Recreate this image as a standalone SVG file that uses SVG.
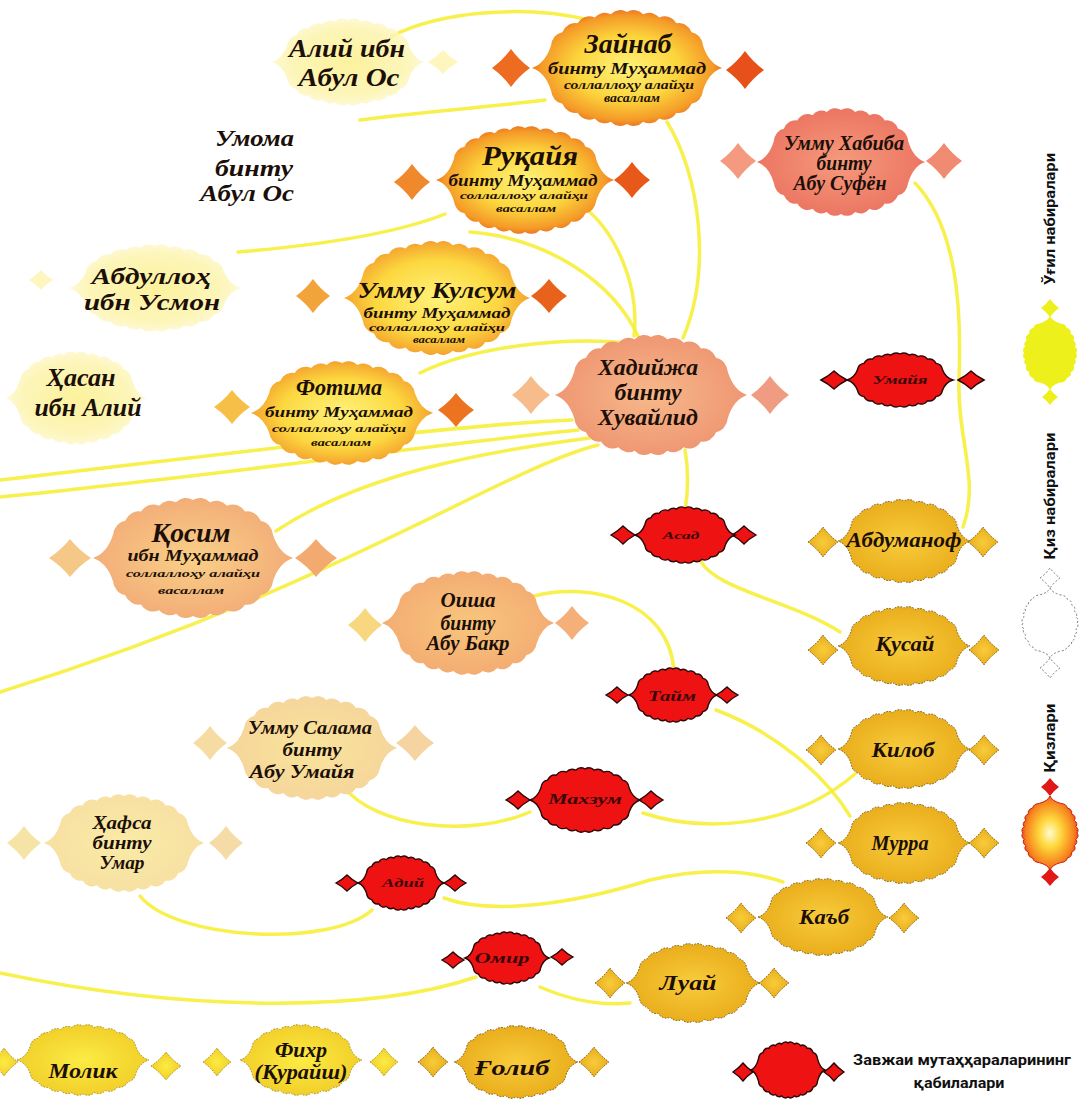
<svg xmlns="http://www.w3.org/2000/svg" xmlns:xlink="http://www.w3.org/1999/xlink" width="1079" height="1103" viewBox="0 0 1079 1103">
<style>
.n{font-family:"Liberation Serif","DejaVu Serif",serif;font-weight:bold;font-style:italic;fill:#1c0f08;text-anchor:middle}
.nr{font-family:"Liberation Serif","DejaVu Serif",serif;font-weight:bold;font-style:italic;fill:#1c0f08;text-anchor:end}
.t{font-family:"Liberation Serif","DejaVu Serif",serif;font-weight:bold;font-style:italic;fill:#3a0808;text-anchor:middle}
.lg{font-family:"Roboto","Liberation Sans",sans-serif;font-weight:bold;fill:#111;text-anchor:middle}
.c{fill:none;stroke:#f6ee3a;stroke-width:3.5;stroke-linecap:round;opacity:.9}
.gold{fill:url(#gGold);stroke:#6e5a22;stroke-width:1;stroke-dasharray:1.5 1.5}
.yel{fill:url(#gYel);stroke:#8a7a2a;stroke-width:.8;stroke-dasharray:1.5 1.5}
.red{fill:#ee1212;stroke:#2a0505;stroke-width:1.4}
.pale{fill:url(#gPale);opacity:.8}
.dpale{fill:#fbf08a;opacity:.55}
</style>
<defs>
<path id="med" vector-effect="non-scaling-stroke" d="M -100 0 Q -86 -4 -80 -20 A 14 14 0 0 1 -68 -32 A 15 15 0 0 1 -52 -40 A 15 15 0 0 1 -34 -45 A 15 15 0 0 1 -17 -48 A 15 15 0 0 1 0 -50 A 15 15 0 0 1 17 -48 A 15 15 0 0 1 34 -45 A 15 15 0 0 1 52 -40 A 15 15 0 0 1 68 -32 A 14 14 0 0 1 80 -20 Q 86 -4 100 0 Q 86 4 80 20 A 14 14 0 0 1 68 32 A 15 15 0 0 1 52 40 A 15 15 0 0 1 34 45 A 15 15 0 0 1 17 48 A 15 15 0 0 1 0 50 A 15 15 0 0 1 -17 48 A 15 15 0 0 1 -34 45 A 15 15 0 0 1 -52 40 A 15 15 0 0 1 -68 32 A 14 14 0 0 1 -80 20 Q -86 4 -100 0 Z"/>
<path id="dia" vector-effect="non-scaling-stroke" d="M -1 0 Q -0.42 -0.42 0 -1 Q 0.42 -0.42 1 0 Q 0.42 0.42 0 1 Q -0.42 0.42 -1 0 Z"/>
<radialGradient id="gDau" cx="50%" cy="50%" r="55%"><stop offset="0" stop-color="#fff27a"/><stop offset=".5" stop-color="#fcd53c"/><stop offset=".82" stop-color="#f49a28"/><stop offset="1" stop-color="#e6561a"/></radialGradient>
<radialGradient id="gDau2" cx="50%" cy="50%" r="55%"><stop offset="0" stop-color="#fff27a"/><stop offset=".6" stop-color="#fcd840"/><stop offset=".88" stop-color="#f5a830"/><stop offset="1" stop-color="#ee7a22"/></radialGradient>
<radialGradient id="gKhad" cx="50%" cy="50%" r="55%"><stop offset="0" stop-color="#f7b88a"/><stop offset="1" stop-color="#ee9470"/></radialGradient>
<radialGradient id="gHab" cx="50%" cy="50%" r="55%"><stop offset="0" stop-color="#f59a7c"/><stop offset="1" stop-color="#eb7260"/></radialGradient>
<radialGradient id="gQos" cx="50%" cy="50%" r="55%"><stop offset="0" stop-color="#f9d088"/><stop offset="1" stop-color="#f2aa76"/></radialGradient>
<radialGradient id="gOis" cx="50%" cy="50%" r="55%"><stop offset="0" stop-color="#f8c67c"/><stop offset="1" stop-color="#f3aa72"/></radialGradient>
<radialGradient id="gSal" cx="50%" cy="50%" r="55%"><stop offset="0" stop-color="#f9e49a"/><stop offset="1" stop-color="#f5d49c"/></radialGradient>
<radialGradient id="gHaf" cx="50%" cy="50%" r="55%"><stop offset="0" stop-color="#faeba6"/><stop offset="1" stop-color="#f6dfa2"/></radialGradient>
<radialGradient id="gGold" cx="50%" cy="50%" r="55%"><stop offset="0" stop-color="#f8cc3c"/><stop offset="1" stop-color="#e8aa18"/></radialGradient>
<radialGradient id="gYel" cx="50%" cy="50%" r="55%"><stop offset="0" stop-color="#fbec44"/><stop offset="1" stop-color="#f1cc26"/></radialGradient>
<radialGradient id="gPale" cx="50%" cy="50%" r="55%"><stop offset="0" stop-color="#fbee84"/><stop offset=".7" stop-color="#fcf3a8"/><stop offset="1" stop-color="#fef9d8"/></radialGradient>
<radialGradient id="gLegO" cx="50%" cy="50%" r="55%"><stop offset="0" stop-color="#fffbd2"/><stop offset=".35" stop-color="#ffd83c"/><stop offset=".78" stop-color="#f6821e"/><stop offset="1" stop-color="#df3214"/></radialGradient>
</defs>
<rect width="1079" height="1103" fill="#ffffff"/>

<g id="connectors">
<path class="c" d="M 392 36 C 440 12, 520 4, 590 20"/>
<path class="c" d="M 545 100 C 480 108, 420 112, 360 120"/>
<path class="c" d="M 667 122 C 700 175, 712 270, 683 338"/>
<path class="c" d="M 585 208 C 615 232, 640 285, 634 336"/>
<path class="c" d="M 445 214 C 390 236, 310 246, 238 252"/>
<path class="c" d="M 470 232 C 545 238, 612 280, 638 336"/>
<path class="c" d="M 420 373 C 470 348, 560 336, 628 343"/>
<path class="c" d="M 572 420 C 450 425, 220 455, 0 480"/>
<path class="c" d="M 578 430 C 430 445, 220 475, 0 497"/>
<path class="c" d="M 590 438 C 480 452, 360 475, 276 531"/>
<path class="c" d="M 598 445 C 500 470, 330 590, 0 692"/>
<path class="c" d="M 915 183 C 955 225, 962 300, 959 380 C 957 440, 980 480, 963 527"/>
<path class="c" d="M 685 450 C 689 472, 688 492, 685 511"/>
<path class="c" d="M 700 560 C 715 590, 790 600, 840 632"/>
<path class="c" d="M 534 596 C 590 582, 668 600, 674 670"/>
<path class="c" d="M 716 710 C 775 732, 825 775, 850 816"/>
<path class="c" d="M 643 813 C 700 832, 790 830, 855 774"/>
<path class="c" d="M 343 786 C 375 828, 470 838, 530 812"/>
<path class="c" d="M 140 896 C 175 940, 330 948, 372 910"/>
<path class="c" d="M 444 898 C 490 915, 570 905, 650 880 C 710 866, 755 872, 783 882"/>
<path class="c" d="M 476 977 C 380 1010, 200 1015, 0 973"/>
<path class="c" d="M 540 987 C 570 1000, 600 1006, 630 1003"/>
</g>

<g id="aliy">
<use href="#med" class="pale" transform="translate(348,62) scale(0.76,0.84)"/>
<use href="#dia" class="dpale" transform="translate(443,62) scale(15,12)"/>
<text class="n" x="347" y="57" font-size="26" textLength="116" lengthAdjust="spacingAndGlyphs">Алий ибн</text>
<text class="n" x="349" y="86" font-size="26" textLength="101" lengthAdjust="spacingAndGlyphs">Абул Ос</text>
</g>

<g id="umoma">
<text class="nr" x="294" y="146" font-size="24" textLength="79" lengthAdjust="spacingAndGlyphs">Умома</text>
<text class="nr" x="293" y="176" font-size="24" textLength="78" lengthAdjust="spacingAndGlyphs">бинту</text>
<text class="nr" x="294" y="201" font-size="24" textLength="94" lengthAdjust="spacingAndGlyphs">Абул Ос</text>
</g>

<g id="abdulloh">
<use href="#med" class="pale" transform="translate(155,288) scale(0.86,0.84)"/>
<use href="#dia" class="dpale" transform="translate(41,280) scale(12,10)"/>
<text class="n" x="151" y="284" font-size="24" textLength="119" lengthAdjust="spacingAndGlyphs">Абдуллоҳ</text>
<text class="n" x="152" y="310" font-size="24" textLength="136" lengthAdjust="spacingAndGlyphs">ибн Усмон</text>
</g>

<g id="hasan">
<use href="#med" class="pale" transform="translate(76,398) scale(0.70,0.90)"/>
<text class="n" x="81" y="386" font-size="26" textLength="69" lengthAdjust="spacingAndGlyphs">Ҳасан</text>
<text class="n" x="88" y="416" font-size="26" textLength="107" lengthAdjust="spacingAndGlyphs">ибн Алий</text>
</g>

<g id="zaynab">
<use href="#dia" fill="#ee6c22" transform="translate(511,68) scale(19,19)"/>
<use href="#dia" fill="#e8501a" transform="translate(745,70) scale(19,19)"/>
<use href="#med" fill="url(#gDau)" transform="translate(627,68) scale(0.95,1.12)"/>
<text class="n" x="628" y="53" font-size="28" textLength="87" lengthAdjust="spacingAndGlyphs">Зайнаб</text>
<text class="n" x="627" y="74" font-size="17" textLength="158" lengthAdjust="spacingAndGlyphs">бинту Муҳаммад</text>
<text class="n" x="629" y="89" font-size="12" textLength="130" lengthAdjust="spacingAndGlyphs">соллаллоҳу алайҳи</text>
<text class="n" x="632" y="102" font-size="12" textLength="56" lengthAdjust="spacingAndGlyphs">васаллам</text>
</g>

<g id="ruqayya">
<use href="#dia" fill="#f0882c" transform="translate(412,182) scale(18,18)"/>
<use href="#dia" fill="#e85818" transform="translate(632,180) scale(18,18)"/>
<use href="#med" fill="url(#gDau)" transform="translate(525,180) scale(0.89,1.04)"/>
<text class="n" x="530" y="165" font-size="28" textLength="96" lengthAdjust="spacingAndGlyphs">Руқайя</text>
<text class="n" x="523" y="186" font-size="16" textLength="149" lengthAdjust="spacingAndGlyphs">бинту Муҳаммад</text>
<text class="n" x="524" y="199" font-size="11" textLength="128" lengthAdjust="spacingAndGlyphs">соллаллоҳу алайҳи</text>
<text class="n" x="526" y="212" font-size="11" textLength="60" lengthAdjust="spacingAndGlyphs">васаллам</text>
</g>

<g id="ummukulsum">
<use href="#dia" fill="#f2a43a" transform="translate(313,296) scale(17,17)"/>
<use href="#dia" fill="#e8621c" transform="translate(549,296) scale(18,17)"/>
<use href="#med" fill="url(#gDau2)" transform="translate(437,298) scale(0.93,1.1)"/>
<text class="n" x="437" y="298" font-size="23" textLength="159" lengthAdjust="spacingAndGlyphs">Умму Кулсум</text>
<text class="n" x="437" y="318" font-size="15" textLength="147" lengthAdjust="spacingAndGlyphs">бинту Муҳаммад</text>
<text class="n" x="437" y="331" font-size="10.5" textLength="136" lengthAdjust="spacingAndGlyphs">соллаллоҳу алайҳи</text>
<text class="n" x="439" y="343" font-size="10" textLength="52" lengthAdjust="spacingAndGlyphs">васаллам</text>
</g>

<g id="fotima">
<use href="#dia" fill="#f6c048" transform="translate(232,407) scale(18,17)"/>
<use href="#dia" fill="#ec7420" transform="translate(456,410) scale(18,17)"/>
<use href="#med" fill="url(#gDau2)" transform="translate(342,413) scale(0.91,1.0)"/>
<text class="n" x="339" y="395" font-size="24" textLength="86" lengthAdjust="spacingAndGlyphs">Фотима</text>
<text class="n" x="339" y="417" font-size="15" textLength="148" lengthAdjust="spacingAndGlyphs">бинту Муҳаммад</text>
<text class="n" x="339" y="432" font-size="11" textLength="134" lengthAdjust="spacingAndGlyphs">соллаллоҳу алайҳи</text>
<text class="n" x="341" y="446" font-size="11" textLength="60" lengthAdjust="spacingAndGlyphs">васаллам</text>
</g>

<g id="ummuhabiba">
<use href="#dia" fill="#f39a80" transform="translate(738,161) scale(18,18)"/>
<use href="#dia" fill="#f08a70" transform="translate(944,161) scale(18,18)"/>
<use href="#med" fill="url(#gHab)" transform="translate(841,162) scale(0.84,1.04)"/>
<text class="n" x="844" y="150" font-size="20" textLength="120" lengthAdjust="spacingAndGlyphs">Умму Хабиба</text>
<text class="n" x="844" y="170" font-size="20" textLength="55" lengthAdjust="spacingAndGlyphs">бинту</text>
<text class="n" x="840" y="190" font-size="20" textLength="93" lengthAdjust="spacingAndGlyphs">Абу Суфён</text>
</g>

<g id="khadija">
<use href="#dia" fill="#f6bc8c" transform="translate(531,395) scale(19,19)"/>
<use href="#dia" fill="#f09c82" transform="translate(770,395) scale(19,19)"/>
<use href="#med" fill="url(#gKhad)" transform="translate(651,395) scale(0.96,1.16)"/>
<text class="n" x="648" y="375" font-size="23" textLength="100" lengthAdjust="spacingAndGlyphs">Хадийжа</text>
<text class="n" x="648" y="400" font-size="23" textLength="67" lengthAdjust="spacingAndGlyphs">бинту</text>
<text class="n" x="648" y="425" font-size="23" textLength="100" lengthAdjust="spacingAndGlyphs">Хувайлид</text>
</g>

<g id="umayya">
<use href="#dia" class="red" transform="translate(834,380) scale(13,9)"/>
<use href="#dia" class="red" transform="translate(971,380) scale(13,9)"/>
<use href="#med" class="red" transform="translate(900,380) scale(0.53,0.52)"/>
<text class="t" x="900" y="384" font-size="12" textLength="55" lengthAdjust="spacingAndGlyphs">Умайя</text>
</g>

<g id="qosim">
<use href="#dia" fill="#f6c888" transform="translate(70,558) scale(21,19)"/>
<use href="#dia" fill="#f3aa70" transform="translate(316,558) scale(21,19)"/>
<use href="#med" fill="url(#gQos)" transform="translate(193,558) scale(1.0,1.16)"/>
<text class="n" x="191" y="542" font-size="28" textLength="79" lengthAdjust="spacingAndGlyphs">Қосим</text>
<text class="n" x="193" y="561" font-size="16" textLength="131" lengthAdjust="spacingAndGlyphs">ибн Муҳаммад</text>
<text class="n" x="193" y="577" font-size="11" textLength="134" lengthAdjust="spacingAndGlyphs">соллаллоҳу алайҳи</text>
<text class="n" x="191" y="594" font-size="10" textLength="66" lengthAdjust="spacingAndGlyphs">васаллам</text>
</g>

<g id="oisha">
<use href="#dia" fill="#f7d880" transform="translate(365,625) scale(17,17)"/>
<use href="#dia" fill="#f4b078" transform="translate(572,623) scale(17,17)"/>
<use href="#med" fill="url(#gOis)" transform="translate(468,623) scale(0.86,1.0)"/>
<text class="n" x="468" y="607" font-size="20" textLength="55" lengthAdjust="spacingAndGlyphs">Оиша</text>
<text class="n" x="468" y="630" font-size="20" textLength="55" lengthAdjust="spacingAndGlyphs">бинту</text>
<text class="n" x="468" y="650" font-size="20" textLength="83" lengthAdjust="spacingAndGlyphs">Абу Бакр</text>
</g>

<g id="asad">
<use href="#dia" class="red" transform="translate(623,535) scale(12,9)"/>
<use href="#dia" class="red" transform="translate(744,535) scale(12,9)"/>
<use href="#med" class="red" transform="translate(685,535) scale(0.5,0.54)"/>
<text class="t" x="681" y="539" font-size="11" textLength="37" lengthAdjust="spacingAndGlyphs">Асад</text>
</g>

<g id="abdumanof">
<use href="#dia" class="gold" transform="translate(823,542) scale(15,15)"/>
<use href="#dia" class="gold" transform="translate(983,542) scale(15,15)"/>
<use href="#med" class="gold" transform="translate(904,541) scale(0.66,0.8)"/>
<text class="n" x="904" y="547" font-size="20" textLength="115" lengthAdjust="spacingAndGlyphs">Абдуманоф</text>
</g>

<g id="qusay">
<use href="#dia" class="gold" transform="translate(823,650) scale(15,15)"/>
<use href="#dia" class="gold" transform="translate(984,650) scale(15,15)"/>
<use href="#med" class="gold" transform="translate(904,646) scale(0.66,0.76)"/>
<text class="n" x="905" y="651" font-size="22" textLength="59" lengthAdjust="spacingAndGlyphs">Қусай</text>
</g>

<g id="taym">
<use href="#dia" class="red" transform="translate(617,695) scale(11,8)"/>
<use href="#dia" class="red" transform="translate(727,695) scale(11,8)"/>
<use href="#med" class="red" transform="translate(673,695) scale(0.44,0.52)"/>
<text class="t" x="672" y="701" font-size="14" textLength="48" lengthAdjust="spacingAndGlyphs">Тайм</text>
</g>

<g id="ummusalama">
<use href="#dia" fill="#f6dca2" transform="translate(210,743) scale(17,17)"/>
<use href="#dia" fill="#f6d4a2" transform="translate(415,743) scale(19,18)"/>
<use href="#med" fill="url(#gSal)" transform="translate(312,748) scale(0.85,1.0)"/>
<text class="n" x="310" y="734" font-size="18" textLength="124" lengthAdjust="spacingAndGlyphs">Умму Салама</text>
<text class="n" x="312" y="756" font-size="18" textLength="59" lengthAdjust="spacingAndGlyphs">бинту</text>
<text class="n" x="302" y="778" font-size="18" textLength="105" lengthAdjust="spacingAndGlyphs">Абу Умайя</text>
</g>

<g id="hafsa">
<use href="#dia" fill="#f6e4a6" transform="translate(24,843) scale(17,17)"/>
<use href="#dia" fill="#f5dca6" transform="translate(226,843) scale(17,17)"/>
<use href="#med" fill="url(#gHaf)" transform="translate(124,843) scale(0.8,0.94)"/>
<text class="n" x="122" y="829" font-size="19" textLength="59" lengthAdjust="spacingAndGlyphs">Ҳафса</text>
<text class="n" x="122" y="849" font-size="19" textLength="59" lengthAdjust="spacingAndGlyphs">бинту</text>
<text class="n" x="122" y="869" font-size="19" textLength="45" lengthAdjust="spacingAndGlyphs">Умар</text>
</g>

<g id="maxzum">
<use href="#dia" class="red" transform="translate(518,800) scale(12,9)"/>
<use href="#dia" class="red" transform="translate(651,800) scale(12,9)"/>
<use href="#med" class="red" transform="translate(585,800) scale(0.55,0.62)"/>
<text class="t" x="585" y="804" font-size="15" textLength="74" lengthAdjust="spacingAndGlyphs">Махзум</text>
</g>

<g id="kilob">
<use href="#dia" class="gold" transform="translate(821,750) scale(15,15)"/>
<use href="#dia" class="gold" transform="translate(984,750) scale(15,15)"/>
<use href="#med" class="gold" transform="translate(904,749) scale(0.66,0.76)"/>
<text class="n" x="903" y="757" font-size="21" textLength="63" lengthAdjust="spacingAndGlyphs">Килоб</text>
</g>

<g id="murra">
<use href="#dia" class="gold" transform="translate(821,843) scale(15,15)"/>
<use href="#dia" class="gold" transform="translate(984,843) scale(15,15)"/>
<use href="#med" class="gold" transform="translate(904,843) scale(0.66,0.78)"/>
<text class="n" x="900" y="850" font-size="21" textLength="57" lengthAdjust="spacingAndGlyphs">Мурра</text>
</g>

<g id="adiy">
<use href="#dia" class="red" transform="translate(347,883) scale(11,8)"/>
<use href="#dia" class="red" transform="translate(455,883) scale(11,8)"/>
<use href="#med" class="red" transform="translate(401,883) scale(0.43,0.52)"/>
<text class="t" x="403" y="887" font-size="12" textLength="42" lengthAdjust="spacingAndGlyphs">Адий</text>
</g>

<g id="kaab">
<use href="#dia" class="gold" transform="translate(741,918) scale(15,15)"/>
<use href="#dia" class="gold" transform="translate(904,918) scale(15,15)"/>
<use href="#med" class="gold" transform="translate(823,917) scale(0.65,0.74)"/>
<text class="n" x="824" y="924" font-size="21" textLength="50" lengthAdjust="spacingAndGlyphs">Каъб</text>
</g>

<g id="omir">
<use href="#dia" class="red" transform="translate(453,960) scale(11,8)"/>
<use href="#dia" class="red" transform="translate(562,957) scale(11,8)"/>
<use href="#med" class="red" transform="translate(507,958) scale(0.42,0.5)"/>
<text class="t" x="502" y="963" font-size="14" textLength="55" lengthAdjust="spacingAndGlyphs">Омир</text>
</g>

<g id="luay">
<use href="#dia" class="gold" transform="translate(610,983) scale(15,15)"/>
<use href="#dia" class="gold" transform="translate(774,983) scale(15,15)"/>
<use href="#med" class="gold" transform="translate(693,983) scale(0.67,0.76)"/>
<text class="n" x="688" y="990" font-size="21" textLength="57" lengthAdjust="spacingAndGlyphs">Луай</text>
</g>

<g id="molik">
<use href="#dia" class="yel" transform="translate(4,1062) scale(14,14)"/>
<use href="#dia" class="yel" transform="translate(166,1066) scale(15,14)"/>
<use href="#med" class="yel" transform="translate(83,1060) scale(0.66,0.68)"/>
<text class="n" x="83" y="1078" font-size="22" textLength="69" lengthAdjust="spacingAndGlyphs">Молик</text>
</g>

<g id="fihr">
<use href="#dia" class="yel" transform="translate(217,1062) scale(14,14)"/>
<use href="#dia" class="yel" transform="translate(384,1062) scale(14,14)"/>
<use href="#med" class="yel" transform="translate(301,1060) scale(0.61,0.68)"/>
<text class="n" x="301" y="1057" font-size="20" textLength="52" lengthAdjust="spacingAndGlyphs">Фихр</text>
<text class="n" x="301" y="1079" font-size="20" textLength="93" lengthAdjust="spacingAndGlyphs">(Қурайш)</text>
</g>

<g id="golib">
<use href="#dia" class="gold" transform="translate(433,1062) scale(15,15)"/>
<use href="#dia" class="gold" transform="translate(594,1062) scale(15,15)"/>
<use href="#med" class="gold" transform="translate(516,1062) scale(0.62,0.7)"/>
<text class="n" x="512" y="1075" font-size="22" textLength="75" lengthAdjust="spacingAndGlyphs">Ғолиб</text>
</g>

<g id="legend">
<use href="#dia" fill="#eef01c" transform="translate(1050,308) scale(9,9)"/>
<use href="#dia" fill="#eef01c" transform="translate(1050,397) scale(8,8)"/>
<use href="#med" fill="#eef01c" transform="translate(1050,353) rotate(90) scale(0.37,0.52)"/>
<text class="lg" transform="translate(1055,219) rotate(-90)" font-size="14" textLength="132" lengthAdjust="spacingAndGlyphs">Ўғил набиралари</text>

<use href="#dia" fill="#ffffff" stroke="#777" stroke-width="1" stroke-dasharray="2 2" transform="translate(1050,578) scale(10,10)"/>
<use href="#dia" fill="#ffffff" stroke="#777" stroke-width="1" stroke-dasharray="2 2" transform="translate(1050,668) scale(10,10)"/>
<use href="#med" fill="#ffffff" stroke="#777" stroke-width="1" stroke-dasharray="2 2" transform="translate(1050,623) rotate(90) scale(0.35,0.54)"/>
<text class="lg" transform="translate(1055,496) rotate(-90)" font-size="14" textLength="127" lengthAdjust="spacingAndGlyphs">Қиз набиралари</text>

<use href="#dia" fill="#e01818" transform="translate(1050,787) scale(9,9)"/>
<use href="#dia" fill="#e01818" transform="translate(1050,877) scale(9,9)"/>
<use href="#med" fill="url(#gLegO)" stroke="#c82010" stroke-width="1" transform="translate(1050,833) rotate(90) scale(0.37,0.54)"/>
<text class="lg" transform="translate(1055,738) rotate(-90)" font-size="14" textLength="69" lengthAdjust="spacingAndGlyphs">Қизлари</text>

<use href="#dia" class="red" transform="translate(743,1072) scale(10,9)"/>
<use href="#dia" class="red" transform="translate(834,1072) scale(10,9)"/>
<use href="#med" class="red" transform="translate(788,1070) scale(0.37,0.54)"/>
<text class="lg" x="962" y="1065" font-size="15" textLength="218" lengthAdjust="spacingAndGlyphs">Завжаи мутаҳҳараларининг</text>
<text class="lg" x="959" y="1088" font-size="15" textLength="91" lengthAdjust="spacingAndGlyphs">қабилалари</text>
</g>
</svg>
